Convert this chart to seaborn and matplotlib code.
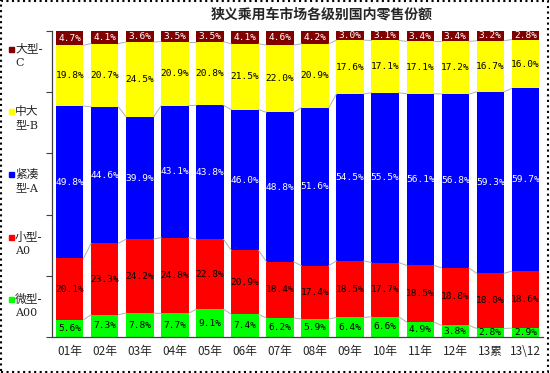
import numpy as np
import pandas as pd
import matplotlib
matplotlib.use('Agg')
import matplotlib.pyplot as plt
import seaborn as sns
from matplotlib.patches import Rectangle

sns.set_theme(style='white')
plt.rcParams['font.family'] = ['Noto Sans CJK SC', 'DejaVu Sans']

# categories (x axis)
years = ['01年', '02年', '03年', '04年', '05年', '06年', '07年', '08年',
         '09年', '10年', '11年', '12年', '13累', '13\\12']

# share of each segment in %, bottom to top
a00 = [5.6, 7.3, 7.8, 7.7, 9.1, 7.4, 6.2, 5.9, 6.4, 6.6, 4.9, 3.8, 2.8, 2.9]
a0 = [20.1, 23.3, 24.2, 24.8, 22.8, 20.9, 18.4, 17.4, 18.5, 17.7, 18.5, 18.8, 18.0, 18.6]
seg_a = [49.8, 44.6, 39.9, 43.1, 43.8, 46.0, 48.8, 51.6, 54.5, 55.5, 56.1, 56.8, 59.3, 59.7]
seg_b = [19.8, 20.7, 24.5, 20.9, 20.8, 21.5, 22.0, 20.9, 17.6, 17.1, 17.1, 17.2, 16.7, 16.0]
seg_c = [4.7, 4.1, 3.6, 3.5, 3.5, 4.1, 4.6, 4.2, 3.0, 3.1, 3.4, 3.4, 3.2, 2.8]

series = ['微型-A00', '小型-A0', '紧凑型-A', '中大型-B', '大型-C']
colors = ['#00FF00', '#FF0000', '#0000FF', '#FFFF00', '#800000']
text_colors = ['black', 'black', 'white', 'black', 'white']

df = pd.DataFrame({'year': years, series[0]: a00, series[1]: a0,
                   series[2]: seg_a, series[3]: seg_b, series[4]: seg_c})
cum = df[series].cumsum(axis=1)

fig = plt.figure(figsize=(5.5, 3.73), dpi=100)
ax = fig.add_axes([0.095, 0.0965, 0.892, 0.8205])

bar_w = 0.78
# draw cumulative totals, tallest first, so each layer sits on the one below
for s, c in reversed(list(zip(series, colors))):
    sns.barplot(x=df['year'], y=cum[s], color=c, width=bar_w,
                saturation=1, ax=ax, linewidth=0)

# series lines joining the segment tops
x = np.arange(len(years))
for s in series[:-1]:
    top = cum[s].values
    for i in range(len(years) - 1):
        ax.plot([x[i] + bar_w / 2, x[i + 1] - bar_w / 2], [top[i], top[i + 1]],
                color='#b0b0b0', lw=0.7, zorder=1)

# value labels
for k, s in enumerate(series):
    mid = cum[s].values - df[s].values / 2
    for i, v in enumerate(df[s].values):
        ax.text(x[i], mid[i], f'{v:.1f}%', ha='center', va='center',
                fontsize=6.8, family='DejaVu Sans Mono', color=text_colors[k])

ax.set_xlim(-0.5, len(years) - 0.5)
ax.set_ylim(0, 100)
ax.set_xlabel('')
ax.set_ylabel('')
ax.set_yticks([0, 20, 40, 60, 80, 100])
ax.set_yticklabels([])
ax.set_xticks(x)
ax.set_xticklabels(years, fontsize=8.5)
ax.set_xticks(np.arange(-0.5, len(years)), minor=True)
ax.tick_params(axis='x', which='major', length=0, pad=6)
ax.tick_params(axis='x', which='minor', length=3, width=0.8, color='#404040', direction='out')
ax.tick_params(axis='y', which='major', length=4, width=0.8, color='#404040', direction='out', left=True)
for side in ['top', 'right']:
    ax.spines[side].set_visible(False)
for side in ['left', 'bottom']:
    ax.spines[side].set_color('#404040')
    ax.spines[side].set_linewidth(0.9)

fig.text(0.585, 0.96, '狭义乘用车市场各级别国内零售份额', ha='center', va='center',
         fontsize=10, fontweight='bold')

# legend on the left, two lines per entry
legend_lines = [('大型-', 'C'), ('中大', '型-B'), ('紧凑', '型-A'), ('小型-', 'A0'), ('微型-', 'A00')]
legend_y = [49, 111, 174, 237, 299]
for (l1, l2), yy, c in zip(legend_lines, legend_y, list(reversed(colors))):
    fy = 1 - yy / 373
    fig.patches.append(Rectangle((9 / 550, fy - 2.5 / 373), 5 / 550, 5 / 373,
                                 transform=fig.transFigure, color=c, zorder=5))
    fig.text(15 / 550, fy, l1, ha='left', va='center', fontsize=8.5)
    fig.text(15 / 550, fy - 14 / 373, l2, ha='left', va='center', fontsize=8,
             family=['DejaVu Serif', 'Noto Sans CJK SC'])

# dotted frame around the whole picture
fig.patches.append(Rectangle((0.002, 0.003), 0.995, 0.994, transform=fig.transFigure,
                             fill=False, linestyle=':', lw=1.5, color='black'))

fig.savefig('out.png', dpi=100)
